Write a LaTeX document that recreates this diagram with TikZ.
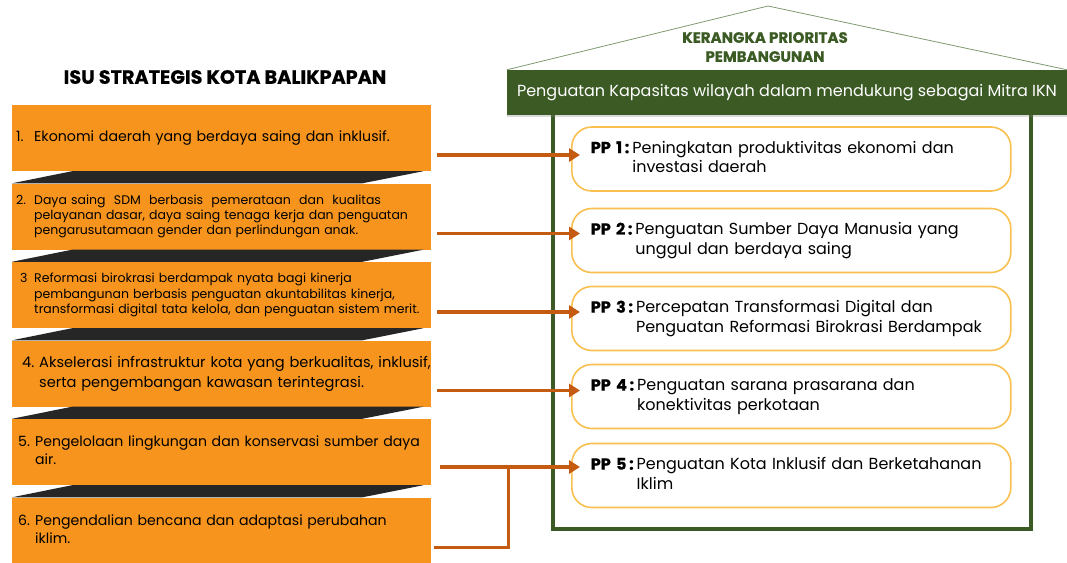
\documentclass[tikz,border=0pt]{standalone}
\usepackage{fontspec}
\setmainfont{Poppins}[BoldFeatures={FakeBold=0.6}]
\usetikzlibrary{arrows.meta,shadows}

\definecolor{isuorange}{HTML}{F7941D}
\definecolor{stripgray}{HTML}{262626}
\definecolor{arroworange}{HTML}{C55A11}
\definecolor{housegreen}{HTML}{3B5A24}
\definecolor{ppyellow}{HTML}{F9C04F}
\definecolor{roofgray}{HTML}{7F9A70}

\begin{document}
\begin{tikzpicture}[x=1pt,y=-1pt]
\tikzset{
  isubox/.style={fill=isuorange,text width=411pt,inner xsep=4pt,inner ysep=0pt,minimum height=66pt,align=left,anchor=west,text=black},
  ppbox/.style={draw=ppyellow,fill=white,line width=1.6pt,rounded corners=20pt,text width=401pt,inner xsep=19pt,minimum height=64pt,align=left,anchor=west,font=\fontsize{16}{19.5}\selectfont},
  flowline/.style={draw=arroworange,line width=3.5pt},
  flowarrow/.style={flowline,-{Triangle[length=11pt,width=13pt]},shorten >=-9pt},
  strip/.style={fill=stripgray}
}
\useasboundingbox (0,0) rectangle (1067,562);

% left column
\node[font=\bfseries\fontsize{19.2}{21}\selectfont] (n_isutitle) at (225,77) {ISU STRATEGIS KOTA BALIKPAPAN};
\node[isubox,font=\fontsize{14.2}{17}\selectfont] (n_isu1) at (12,138) {\begin{tabular}{@{}p{18pt}@{}l@{}}1. & Ekonomi daerah yang berdaya saing dan inklusif.\end{tabular}};
\node[isubox,font=\fontsize{12.5}{15}\selectfont] (n_isu2) at (12,216.5) {\begin{tabular}{@{}p{18pt}@{}l@{}}2. & Daya saing\ \ SDM\ \ berbasis\ \ pemerataan\ \ dan\ \ kualitas\\ & pelayanan dasar, daya saing tenaga kerja dan penguatan\\ & pengarusutamaan\ gender\ dan\ perlindungan\ anak.\end{tabular}};
\node[isubox,font=\fontsize{12.5}{15.5}\selectfont] (n_isu3) at (12,295) {\hspace*{4pt}\begin{tabular}{@{}p{14pt}@{}l@{}}3 & Reformasi\ birokrasi\ berdampak\ nyata\ bagi\ kinerja\\ & pembangunan berbasis penguatan akuntabilitas kinerja,\\ & transformasi digital tata kelola, dan penguatan sistem merit.\end{tabular}};
\node[isubox,font=\fontsize{14.6}{20}\selectfont] (n_isu4) at (12,373.5) {\hspace*{6pt}\begin{tabular}{@{}p{17pt}@{}l@{}}4. & Akselerasi infrastruktur kota yang berkualitas, inklusif,\\ & serta pengembangan kawasan terintegrasi.\end{tabular}};
\node[isubox,font=\fontsize{14.1}{18}\selectfont] (n_isu5) at (12,452) {\hspace*{2pt}\begin{tabular}{@{}p{17pt}@{}l@{}}5. & Pengelolaan lingkungan dan konservasi sumber daya\\ & air.\end{tabular}};
\node[isubox,font=\fontsize{14.1}{18}\selectfont] (n_isu6) at (12,530.5) {\hspace*{2pt}\begin{tabular}{@{}p{17pt}@{}l@{}}6. & Pengendalian bencana dan adaptasi perubahan\\ & iklim.\end{tabular}};
\fill[strip] (n_isu2.north west) -- ([xshift=60pt]n_isu1.south west) -- ([xshift=-8pt]n_isu1.south east) -- ([xshift=-69pt]n_isu2.north east) -- cycle;
\fill[strip] (n_isu3.north west) -- ([xshift=60pt]n_isu2.south west) -- ([xshift=-8pt]n_isu2.south east) -- ([xshift=-69pt]n_isu3.north east) -- cycle;
\fill[strip] (n_isu4.north west) -- ([xshift=60pt]n_isu3.south west) -- ([xshift=-8pt]n_isu3.south east) -- ([xshift=-69pt]n_isu4.north east) -- cycle;
\fill[strip] (n_isu5.north west) -- ([xshift=60pt]n_isu4.south west) -- ([xshift=-8pt]n_isu4.south east) -- ([xshift=-69pt]n_isu5.north east) -- cycle;
\fill[strip] (n_isu6.north west) -- ([xshift=60pt]n_isu5.south west) -- ([xshift=-8pt]n_isu5.south east) -- ([xshift=-69pt]n_isu6.north east) -- cycle;

% house
\draw[housegreen,line width=3.2pt] (553,110) |- (1031,529) -- (1031,110);
\node[fill=housegreen,minimum width=560pt,minimum height=45pt,inner sep=0pt,text=white,font=\fontsize{16}{19}\selectfont,drop shadow={opacity=0.3,shadow xshift=0pt,shadow yshift=-2pt}] (n_band) at (787,92.5) {Penguatan Kapasitas wilayah dalam mendukung sebagai Mitra IKN};
\coordinate (n_peak) at (768,6);
\draw[roofgray,line width=0.8pt] (n_band.north west) -- (n_peak) -- (n_band.north east);
\node[text=housegreen,align=center,font=\bfseries\fontsize{15}{19}\selectfont] (n_kerangka) at (765,47) {KERANGKA PRIORITAS\\PEMBANGUNAN};
\node[ppbox] (n_pp1) at (571,159) {\begin{tabular}{@{}l@{\hspace{3pt}}l@{}}\textbf{PP 1\,:} & Peningkatan produktivitas ekonomi dan\\ & investasi daerah\end{tabular}};
\node[ppbox] (n_pp2) at (571,240.5) {\begin{tabular}{@{}l@{\hspace{3pt}}l@{}}\textbf{PP 2\,:} & Penguatan Sumber Daya Manusia yang\\ & unggul dan berdaya saing\end{tabular}};
\node[ppbox] (n_pp3) at (571,318.5) {\begin{tabular}{@{}l@{\hspace{3pt}}l@{}}\textbf{PP 3\,:} & Percepatan Transformasi Digital dan\\ & Penguatan Reformasi Birokrasi Berdampak\end{tabular}};
\node[ppbox] (n_pp4) at (571,396.5) {\begin{tabular}{@{}l@{\hspace{3pt}}l@{}}\textbf{PP 4\,:} & Penguatan sarana prasarana dan\\ & konektivitas perkotaan\end{tabular}};
\node[ppbox] (n_pp5) at (571,475.5) {\begin{tabular}{@{}l@{\hspace{3pt}}l@{}}\textbf{PP 5\,:} & Penguatan Kota Inklusif dan Berketahanan\\ & Iklim\end{tabular}};

% connectors
\coordinate (a1) at ([yshift=-17pt]n_isu1.east);
\coordinate (a2) at ([yshift=-17pt]n_isu2.east);
\coordinate (a3) at ([yshift=-17pt]n_isu3.east);
\coordinate (a4) at ([yshift=-17pt]n_isu4.east);
\coordinate (a5) at ([yshift=-15pt]n_isu5.east);
\coordinate (a6) at ([yshift=-17pt]n_isu6.east);
\coordinate (n_join) at ([xshift=77pt]a5);
\draw[flowarrow,shorten <=6pt] (a1) -- (a1 -| n_pp1.west);
\draw[flowarrow,shorten <=6pt] (a2) -- (a2 -| n_pp2.west);
\draw[flowarrow,shorten <=6pt] (a3) -- (a3 -| n_pp3.west);
\draw[flowarrow,shorten <=6pt] (a4) -- (a4 -| n_pp4.west);
\draw[flowline,shorten <=9pt] (a5) -- (n_join);
\draw[flowarrow,shorten <=3pt] (a6) -| (n_join) -- (n_join -| n_pp5.west);
\end{tikzpicture}
\end{document}
